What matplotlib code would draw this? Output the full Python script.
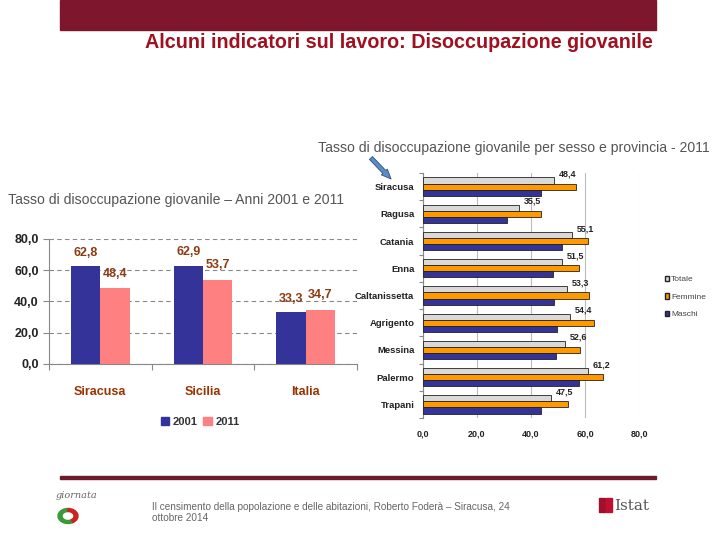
import matplotlib
matplotlib.use("Agg")
import matplotlib.pyplot as plt
import matplotlib.patches as mpatches
import numpy as np

plt.rcParams['font.family'] = ['Liberation Sans', 'DejaVu Sans']

# ---- data: left chart ----
areas = ["Siracusa", "Sicilia", "Italia"]
val_2001 = [62.8, 62.9, 33.3]
val_2011 = [48.4, 53.7, 34.7]
left_yticks = [0, 20, 40, 60, 80]

# ---- data: right chart ----
provinces = ["Siracusa", "Ragusa", "Catania", "Enna", "Caltanissetta",
             "Agrigento", "Messina", "Palermo", "Trapani"]
totale = [48.4, 35.5, 55.1, 51.5, 53.3, 54.4, 52.6, 61.2, 47.5]
femmine = [56.5, 43.6, 60.9, 57.6, 61.3, 63.1, 58.0, 66.5, 53.5]
maschi = [43.6, 31.0, 51.3, 48.0, 48.4, 49.5, 49.1, 57.6, 43.6]
right_xticks = [0, 20, 40, 60, 80]

W, H = 720, 540
fig = plt.figure(figsize=(7.2, 5.4), dpi=100)
fig.patch.set_facecolor("white")

def fx(px):
    return px / W

def fy(py):
    return 1 - py / H

def fmt(v):
    return f"{v:.1f}".replace(".", ",")

# banner
fig.patches.append(mpatches.Rectangle((fx(60), fy(30)), fx(596), 30 / H,
                                      transform=fig.transFigure, color="#7E172D", zorder=0))
fig.text(fx(398.5), fy(43), "Alcuni indicatori sul lavoro: Disoccupazione giovanile",
         ha="center", va="center", fontsize=14.2, fontweight="bold", color="#A01020")

# subtitles
fig.text(fx(710), fy(148), "Tasso di disoccupazione giovanile per sesso e provincia - 2011",
         ha="right", va="center", fontsize=10.1, color="#555555")
fig.text(fx(8), fy(200), "Tasso di disoccupazione giovanile – Anni 2001 e 2011",
         ha="left", va="center", fontsize=10.1, color="#555555")

# ---- left chart ----
axL = fig.add_axes([fx(49), fy(364), fx(308), 125 / H])
x = np.arange(len(areas))
bw = 0.285
c2001, c2011 = "#333399", "#FF8080"
axL.bar(x - bw / 2, val_2001, bw, color=c2001, zorder=3)
axL.bar(x + bw / 2, val_2011, bw, color=c2011, zorder=3)
labc = "#8B3A12"
for i in range(len(areas)):
    axL.text(x[i] - bw / 2, val_2001[i] + 8.5, fmt(val_2001[i]), ha="center", va="center",
             fontsize=9, color=labc, fontweight="bold")
    axL.text(x[i] + bw / 2, val_2011[i] + 9.5, fmt(val_2011[i]), ha="center", va="center",
             fontsize=9, color=labc, fontweight="bold")
axL.set_xlim(-0.5, 2.5)
axL.set_ylim(0, 80)
axL.set_yticks(left_yticks)
axL.set_yticklabels([fmt(v) for v in left_yticks], fontsize=9, fontweight="bold", color="#222222")
axL.yaxis.grid(True, linestyle=(0, (4, 3)), color="#888888", linewidth=0.8, zorder=0)
axL.set_xticks([-0.5, 0.5, 1.5, 2.5])
axL.set_xticklabels([])
axL.set_xticks(x, minor=True)
axL.set_xticklabels(areas, minor=True, fontsize=9, fontweight="bold", color="#993300")
axL.tick_params(axis="x", which="minor", length=0, pad=16)
axL.tick_params(axis="x", which="major", length=4, color="#888888", direction="out")
axL.tick_params(axis="y", length=4, color="#888888")
for s in ["top", "right"]:
    axL.spines[s].set_visible(False)
for s in ["left", "bottom"]:
    axL.spines[s].set_color("#888888")
h1 = mpatches.Patch(color=c2001, label="2001")
h2 = mpatches.Patch(color=c2011, label="2011")
fig.legend(handles=[h1, h2], loc="center", bbox_to_anchor=(fx(200), fy(422)), ncol=2,
           frameon=False, prop={"size": 8, "weight": "bold"}, handlelength=0.8,
           handleheight=0.8, columnspacing=0.5, handletextpad=0.3, labelcolor="#333333")

# ---- right chart ----
axR = fig.add_axes([fx(422.7), fy(418), fx(216.6), 245 / H])
n = len(provinces)
y = np.arange(n)[::-1].astype(float)
bh = 0.225
ctot, cfem, cmas = "#D9D9D9", "#FF9900", "#333399"
axR.barh(y + bh, totale, bh, color=ctot, edgecolor="#222222", linewidth=0.6, zorder=3, label="Totale")
axR.barh(y, femmine, bh, color=cfem, edgecolor="#222222", linewidth=0.6, zorder=3, label="Femmine")
axR.barh(y - bh, maschi, bh, color=cmas, edgecolor="#222222", linewidth=0.6, zorder=3, label="Maschi")
for i in range(n):
    axR.text(totale[i] + 5, y[i] + 1.5 * bh + 0.12, fmt(totale[i]), ha="center", va="center",
             fontsize=6.5, fontweight="bold", color="#222222")
axR.set_xlim(0, 80)
axR.set_ylim(-0.5, n - 0.5)
axR.set_xticks(right_xticks)
axR.set_xticklabels([fmt(v) for v in right_xticks], fontsize=6.5, fontweight="bold", color="#222222")
axR.tick_params(axis="x", length=0, pad=8)
axR.xaxis.grid(True, color="#BBBBBB", linewidth=0.8, zorder=0)
axR.set_yticks(np.arange(-0.5, n, 1))
axR.set_yticklabels([])
axR.set_yticks(y, minor=True)
axR.set_yticklabels(provinces, minor=True, fontsize=6.8, fontweight="bold", color="#222222")
axR.tick_params(axis="y", which="minor", length=0, pad=6)
axR.tick_params(axis="y", which="major", length=3, color="#888888")
for s in ["top", "right", "bottom"]:
    axR.spines[s].set_visible(False)
axR.spines["left"].set_color("#888888")
fig.legend(handles=[mpatches.Patch(facecolor=c, edgecolor="#222222", label=l)
                    for c, l in [(ctot, "Totale"), (cfem, "Femmine"), (cmas, "Maschi")]],
           loc="center left", bbox_to_anchor=(fx(657), fy(297)), frameon=False,
           prop={"size": 6}, handlelength=0.5, handleheight=0.6, handletextpad=0.3,
           labelspacing=1.2, labelcolor="#444444")

# arrow
fig.patches.append(mpatches.FancyArrowPatch((fx(369), fy(156)), (fx(393), fy(181)),
                                            transform=fig.transFigure,
                                            arrowstyle="simple,head_width=6,head_length=7,tail_width=3",
                                            facecolor="#5B8CC8", edgecolor="#2F4F7F", linewidth=0.6))

# bottom rule
fig.patches.append(mpatches.Rectangle((fx(60), fy(479)), fx(596), 3 / H,
                                      transform=fig.transFigure, color="#6E1A2C"))
fig.text(fx(152), fy(507), "Il censimento della popolazione e delle abitazioni, Roberto Foderà – Siracusa, 24",
         ha="left", va="center", fontsize=7.2, color="#666666")
fig.text(fx(152), fy(518), "ottobre 2014", ha="left", va="center", fontsize=7.2, color="#666666")

# logos (approximate)
fig.text(fx(56), fy(495), "giornata", ha="left", va="center", fontsize=7, style="italic", color="#666666",
         family="DejaVu Serif")
fig.patches.append(mpatches.Wedge((fx(68), fy(516)), 10 / W, 90, 300, width=4 / W,
                                  transform=fig.transFigure, color="#3A9A3A"))
fig.patches.append(mpatches.Wedge((fx(68), fy(516)), 10 / W, 300, 90, width=4 / W,
                                  transform=fig.transFigure, color="#CC2222"))
fig.patches.append(mpatches.Rectangle((fx(599), fy(512)), 6 / W, 14 / H, transform=fig.transFigure,
                                      color="#A0102A"))
fig.patches.append(mpatches.Rectangle((fx(606), fy(512)), 6 / W, 14 / H, transform=fig.transFigure,
                                      color="#C01030"))
fig.text(fx(614), fy(506), "Istat", ha="left", va="center", fontsize=11, color="#555555",
         family="DejaVu Serif")

fig.savefig("out.png", dpi=100)
